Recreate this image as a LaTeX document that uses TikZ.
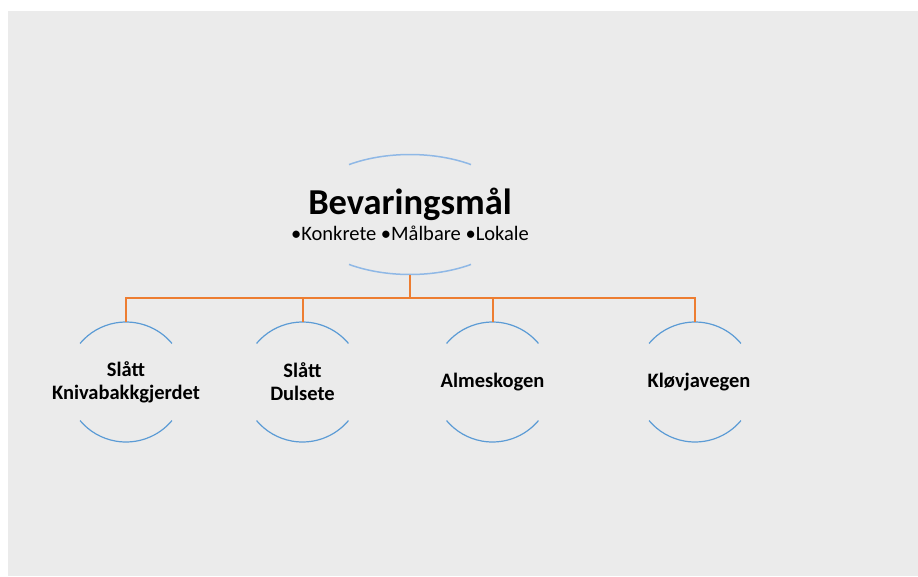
\documentclass[tikz,border=0pt]{standalone}
\usepackage{fontspec}
\setmainfont{Carlito}
\usetikzlibrary{positioning}
\definecolor{bggray}{HTML}{EBEBEB}
\definecolor{rimblue}{HTML}{5B9BD5}
\definecolor{paleblue}{HTML}{8FB8E6}
\definecolor{busorange}{HTML}{ED7D31}

\begin{document}
\begin{tikzpicture}[x=1pt,y=1pt,
  leaf/.style={rectangle,minimum width=120pt,minimum height=120pt,inner sep=0pt,
    align=center,font=\bfseries\fontsize{20.5}{23}\selectfont},
  rim/.style={rimblue,line width=1.2pt},
  goalrim/.style={paleblue,line width=1.5pt},
  conn/.style={busorange,line width=2pt}]
\useasboundingbox (0,0) rectangle (918,-576);
\fill[bggray] (8,-11) rectangle (918,-576);
% goal
\node[rectangle,minimum width=220pt,minimum height=120pt,inner sep=0pt,align=center] (goal) at (410,-214.5)
  {{\bfseries\fontsize{36.5}{36}\selectfont Bevaringsmål}\\[4pt]
   {\fontsize{20.5}{27}\selectfont •Konkrete •Målbare •Lokale}};
\draw[goalrim] (goal.center) ++(56.3:110 and 60) arc[start angle=56.3,end angle=123.7,x radius=110,y radius=60];
\draw[goalrim] (goal.center) ++(-56.3:110 and 60) arc[start angle=-56.3,end angle=-123.7,x radius=110,y radius=60];
% leaves
\node[leaf] (k1) at (126,-382) {Slått\\Knivabakkgjerdet};
\node[leaf] (k2) at (302.5,-382) {Slått\\Dulsete};
\node[leaf] (k3) at (492.5,-382) {Almeskogen};
\node[leaf] (k4) at (695,-382) {\hspace*{8pt}Kløvjavegen};
\foreach \k in {k1,k2,k3,k4} {
  \draw[rim] (\k.center) ++(40:60) arc[start angle=40,end angle=140,radius=60];
  \draw[rim] (\k.center) ++(-40:60) arc[start angle=-40,end angle=-140,radius=60];
}
% connectors
\coordinate (bus) at (410,-298);
\draw[conn] (goal.south) -- (bus);
\foreach \k in {k1,k2,k3,k4}
  \draw[conn] (bus) -| (\k.north);
\end{tikzpicture}
\end{document}
